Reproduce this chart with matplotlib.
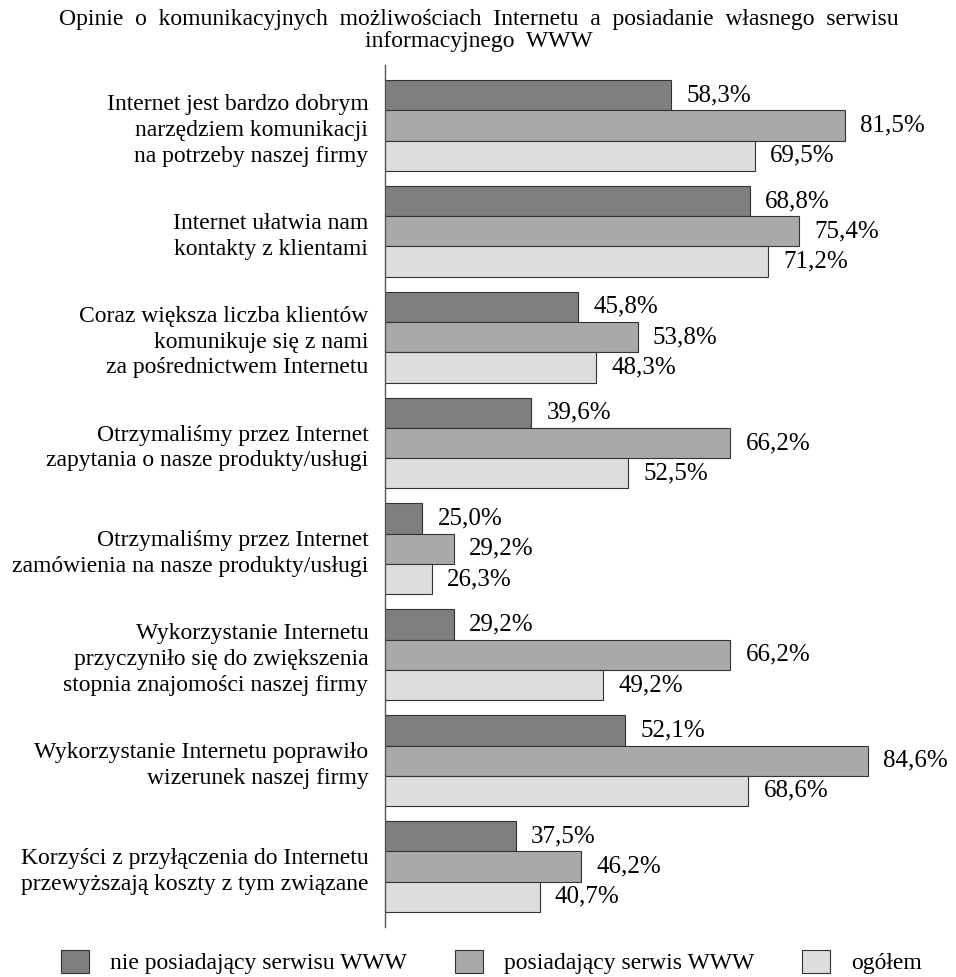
import numpy as np
import matplotlib
matplotlib.use('Agg')
from matplotlib import pyplot as plt
from matplotlib.patches import Patch

# opinie o komunikacyjnych możliwościach Internetu (w %)
kategorie = [
    'Internet jest bardzo dobrym\nnarzędziem komunikacji\nna potrzeby naszej firmy',
    'Internet ułatwia nam\nkontakty z klientami',
    'Coraz większa liczba klientów\nkomunikuje się z nami\nza pośrednictwem Internetu',
    'Otrzymaliśmy przez Internet\nzapytania o nasze produkty/usługi',
    'Otrzymaliśmy przez Internet\nzamówienia na nasze produkty/usługi',
    'Wykorzystanie Internetu\nprzyczyniło się do zwiększenia\nstopnia znajomości naszej firmy',
    'Wykorzystanie Internetu poprawiło\nwizerunek naszej firmy',
    'Korzyści z przyłączenia do Internetu\nprzewyższają koszty z tym związane',
]
nie_posiadajacy = [58.3, 68.8, 45.8, 39.6, 25.0, 29.2, 52.1, 37.5]
posiadajacy = [81.5, 75.4, 53.8, 66.2, 29.2, 66.2, 84.6, 46.2]
ogolem = [69.5, 71.2, 48.3, 52.5, 26.3, 49.2, 68.6, 40.7]

serie = ['nie posiadający serwisu WWW', 'posiadający serwis WWW', 'ogółem']
kolory = ['#807f7d', '#aaa9a7', '#dddddd']

plt.rcParams['font.family'] = ['Liberation Serif', 'DejaVu Serif']
plt.rcParams['font.size'] = 17

fig = plt.figure(figsize=(9.56, 9.77), dpi=100)
ax = fig.add_axes([0.4027, 0.0512, 0.5973, 0.8823])

h = 0.286  # wysokość słupka (odstęp grup = 1)
y = np.arange(len(kategorie))
for j, (vals, kol) in enumerate(zip([nie_posiadajacy, posiadajacy, ogolem], kolory)):
    bars = ax.barh(y + (j - 1) * h, vals, height=h, left=0, color=kol,
                   edgecolor='#333333', linewidth=0.8)
    ax.bar_label(bars, labels=[f'{v:.1f}%'.replace('.', ',') for v in vals],
                 padding=11, fontsize=18)

ax.set_xlim(20, 96.4)
ax.set_ylim(len(kategorie) - 1 + 0.571, -0.571)
ax.set_yticks(y)
ax.set_yticklabels(kategorie, linespacing=1.3)
ax.tick_params(axis='y', length=0, pad=12)
ax.set_xticks([])
for s in ['top', 'right', 'bottom']:
    ax.spines[s].set_visible(False)
ax.spines['left'].set_color('#555555')
ax.spines['left'].set_linewidth(1.0)

fig.text(0.501, 0.980,
         'Opinie  o  komunikacyjnych  możliwościach  Internetu  a  posiadanie  własnego  serwisu',
         ha='center', va='center', fontsize=17)
fig.text(0.501, 0.958, 'informacyjnego  WWW', ha='center', va='center', fontsize=17)

uchwyty = [Patch(facecolor=k, edgecolor='#333333', linewidth=0.8) for k in kolory]
fig.legend(uchwyty, serie, loc='lower center', bbox_to_anchor=(0.514, -0.019),
           ncol=3, frameon=False, handlelength=1.2, handleheight=1.1,
           handletextpad=0.9, columnspacing=2.0, fontsize=17)

fig.savefig('out.png', dpi=100)
